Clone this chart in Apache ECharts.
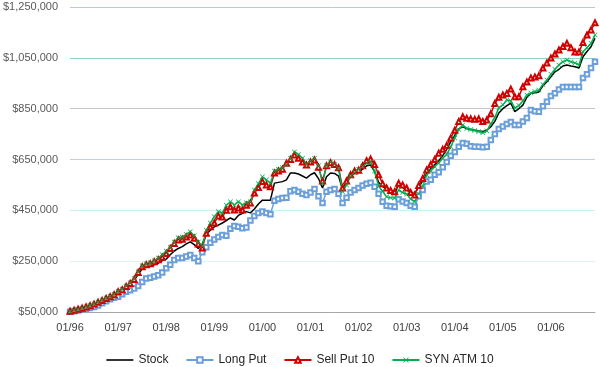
<!DOCTYPE html>
<html>
<head>
<meta charset="utf-8">
<script src="https://cdn.jsdelivr.net/npm/echarts@6/dist/echarts.min.js"></script>
<style>
html,body{margin:0;padding:0;background:#fff;}
#chart{width:600px;height:367px;}
</style>
</head>
<body>
<div id="chart"></div>
<script>
// Monthly values, in thousands of dollars, 01/96 .. 12/06
const years = ['96','97','98','99','00','01','02','03','04','05','06'];
const categories = [];
years.forEach(y => { for (let m = 1; m <= 12; m++) categories.push((m < 10 ? '0' + m : '' + m) + '/' + y); });

const stock = [
  52, 56, 60, 64, 68, 73, 79, 85, 92, 100, 106, 114,
  125, 135, 148, 160, 175, 198, 220, 230, 232, 236, 242, 252,
  258, 275, 290, 300, 307, 318, 326, 315, 300, 318, 355, 372,
  385, 392, 400, 410, 420, 412, 430, 438, 445, 440, 455, 475,
  490, 490, 490, 557, 560, 563, 570, 597, 597, 593, 585, 577,
  590, 598, 575, 538, 582, 597, 595, 585, 532, 560, 582, 598,
  600, 612, 625, 628, 602, 560, 543, 534, 520, 518, 550, 540,
  530, 522, 515, 543, 565, 595, 615, 630, 645, 665, 690, 720,
  745, 770, 779, 772, 768, 765, 762, 760, 765, 779, 800, 833,
  850, 862, 872, 838, 850, 864, 895, 911, 913, 916, 940, 956,
  975, 995, 1005, 1018, 1022, 1018, 1015, 1010, 1054, 1075, 1094, 1127
];
const longPut = [
  51, 53, 56, 59, 62, 66, 70, 76, 84, 92, 100, 106,
  110, 120, 130, 136, 142, 152, 168, 182, 185, 190, 195, 205,
  222, 236, 255, 262, 262, 268, 274, 262, 250, 285, 305, 322,
  335, 345, 353, 350, 378, 388, 385, 380, 382, 410, 428, 440,
  445, 440, 435, 488, 495, 499, 500, 525, 530, 523, 515, 510,
  520, 534, 505, 479, 523, 530, 534, 515, 479, 500, 520, 530,
  538, 548, 555, 559, 543, 515, 484, 468, 466, 464, 494, 485,
  479, 468, 464, 505, 530, 563, 570, 590, 600, 620, 640, 665,
  680, 700, 715, 712, 702, 700, 700, 698, 700, 727, 750, 770,
  780, 790, 798, 786, 786, 800, 813, 845, 840, 838, 860, 877,
  900, 911, 925, 935, 935, 935, 935, 935, 971, 985, 1010, 1035
];
const sellPut10 = [
  53, 57, 61, 65, 70, 75, 81, 88, 95, 103, 110, 118,
  130, 138, 150, 162, 178, 205, 228, 236, 240, 248, 256, 265,
  280, 300, 320, 333, 336, 345, 353, 340, 318, 302, 360, 385,
  400, 428, 424, 450, 464, 451, 459, 451, 470, 479, 518, 540,
  563, 550, 543, 597, 605, 612, 635, 650, 668, 655, 640, 628,
  640, 648, 620, 565, 625, 637, 630, 618, 538, 565, 590, 605,
  608, 625, 645, 652, 630, 590, 555, 538, 528, 523, 557, 550,
  538, 520, 510, 548, 575, 609, 630, 650, 675, 690, 705, 735,
  765, 800, 818, 812, 810, 808, 810, 800, 805, 830, 870, 895,
  904, 910, 927, 897, 897, 936, 955, 971, 975, 980, 1010, 1030,
  1049, 1065, 1081, 1095, 1107, 1090, 1073, 1073, 1110, 1140, 1160, 1188
];
const synAtm10 = [
  53, 57, 61, 66, 71, 76, 82, 89, 97, 105, 112, 120,
  132, 140, 152, 165, 182, 208, 232, 240, 244, 252, 262, 275,
  290, 305, 325, 342, 345, 355, 366, 350, 325, 310, 372, 400,
  425, 445, 440, 470, 484, 471, 484, 471, 480, 484, 530, 555,
  582, 570, 557, 605, 612, 618, 630, 655, 680, 670, 655, 632,
  645, 655, 625, 557, 625, 640, 630, 615, 523, 550, 585, 600,
  612, 622, 636, 640, 605, 545, 525, 503, 500, 499, 530, 520,
  514, 495, 484, 515, 545, 589, 605, 622, 636, 655, 670, 700,
  735, 768, 786, 772, 768, 764, 760, 755, 762, 790, 815, 853,
  865, 884, 880, 853, 862, 880, 904, 912, 918, 923, 945, 963,
  985, 1005, 1022, 1035, 1041, 1035, 1030, 1022, 1074, 1090, 1107, 1140
];
const seriesNames = ['Stock', 'Long Put', 'Sell Put 10', 'SYN ATM 10'];

const crossPath = 'path://M0,1L1,0L5,4L9,0L10,1L6,5L10,9L9,10L5,6L1,10L0,9L4,5Z';
// thin horizontal line inside a 27x7 box (moveTo points widen the box)
const lineIcon = 'path://M0,0M27,7M0,2.7H27V4.3H0Z';
const FONT = 'Liberation Sans';

const chart = echarts.init(document.getElementById('chart'), null, {renderer: 'canvas'});
chart.setOption({
  animation: false,
  backgroundColor: '#ffffff',
  grid: {left: 67, right: 5, top: 7, bottom: 55, containLabel: false},
  legend: {
    top: 349,
    left: 'center',
    itemWidth: 27,
    itemHeight: 7,
    itemGap: 17,
    textStyle: {fontFamily: FONT, fontSize: 12, color: '#262626'},
    data: [
      {name: 'Stock', icon: lineIcon, itemStyle: {color: '#000000'}},
      {name: 'Long Put'},
      {name: 'Sell Put 10'},
      {name: 'SYN ATM 10'}
    ]
  },
  xAxis: {
    type: 'category',
    data: categories,
    boundaryGap: false,
    axisLine: {lineStyle: {color: '#a6a6a6', width: 1}},
    axisTick: {show: false},
    axisLabel: {interval: 11, margin: 10, fontFamily: FONT, fontSize: 11, color: '#404040'},
    splitLine: {show: false}
  },
  yAxis: {
    type: 'value',
    min: 50,
    max: 1250,
    interval: 200,
    axisLine: {show: false},
    axisTick: {show: false},
    axisLabel: {
      margin: 12, fontFamily: FONT, fontSize: 11, color: '#595959',
      formatter: v => '$' + (v * 1000).toLocaleString('en-US')
    },
    splitLine: {lineStyle: {color: ['#bfbfbf', '#dff2f8', '#c9f0f3', '#c5c9f3', '#c6c6c6', '#93d0c8', '#b6c6f0'], width: 1}}
  },
  series: [
    {
      name: 'Stock', type: 'line', data: stock,
      showSymbol: false, symbol: 'none',
      lineStyle: {color: '#000000', width: 1.5},
      itemStyle: {color: '#000000'}
    },
    {
      name: 'Long Put', type: 'line', data: longPut,
      symbol: 'emptyRect', symbolSize: 4.5, showAllSymbol: true,
      lineStyle: {color: '#6b9fdc', width: 1.5},
      itemStyle: {color: '#6b9fdc', borderWidth: 1.2}
    },
    {
      name: 'Sell Put 10', type: 'line', data: sellPut10,
      symbol: 'emptyTriangle', symbolSize: 5, showAllSymbol: true,
      lineStyle: {color: '#d00000', width: 1.5},
      itemStyle: {color: '#d00000', borderWidth: 1.2}
    },
    {
      name: 'SYN ATM 10', type: 'line', data: synAtm10,
      symbol: crossPath, symbolSize: 5, showAllSymbol: true,
      lineStyle: {color: '#00b050', width: 1.5},
      itemStyle: {color: '#00b050'}
    }
  ]
});
</script>
</body>
</html>
